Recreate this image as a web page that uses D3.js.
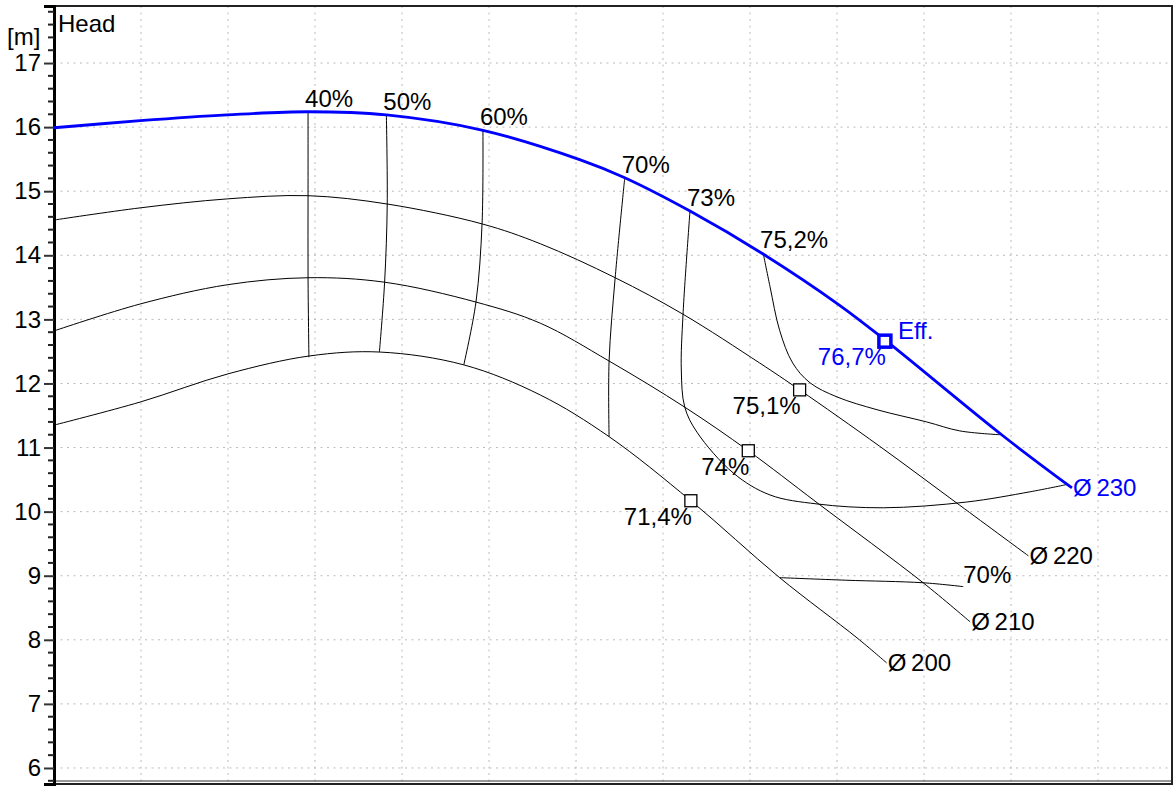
<!DOCTYPE html>
<html>
<head>
<meta charset="utf-8">
<script src="https://cdn.jsdelivr.net/npm/d3@7"></script>
<style>
  body { margin: 0; background: #fff; }
  text { font-family: "Liberation Sans", Arial, sans-serif; font-size: 24px; }
  .grid line { stroke: #bbb; stroke-width: 1; stroke-dasharray: 2,4.5; }
  .curve { fill: none; }
</style>
</head>
<body>
<svg width="1175" height="787"></svg>
<script>
// flow units are arbitrary (no x labels in the source), head in m
const h230 = [[0,15.99],[9.9,16.10],[19.9,16.19],[29.2,16.24],[38.2,16.19],[49.3,15.95],[60.5,15.49],[65.6,15.21],[73.1,14.69],[81.5,14.02],[90.3,13.22],[95.5,12.68],[109.1,11.18],[117.0,10.37]];
const h220 = [[0,14.55],[9.9,14.74],[19.9,14.88],[29.2,14.93],[38.3,14.80],[49.2,14.49],[55.9,14.18],[64.5,13.65],[72.3,13.08],[81.1,12.32],[85.7,11.90],[94.9,11.02],[104.1,10.10],[112.0,9.31]];
const h210 = [[0,12.82],[9.9,13.24],[19.9,13.54],[29.2,13.65],[38.0,13.58],[48.5,13.27],[55.9,12.94],[63.8,12.35],[72.5,11.63],[79.8,10.95],[87.7,10.14],[99.9,8.89],[105.3,8.28]];
const h200 = [[0,11.35],[9.9,11.71],[20.0,12.15],[29.4,12.43],[37.5,12.49],[47.1,12.29],[55.9,11.82],[63.8,11.17],[73.2,10.17],[83.4,8.97],[92.3,8.03],[95.7,7.64]];

const diameters = [
  { name: "Ø\u2009230", pts: h230, blue: true },
  { name: "Ø\u2009220", pts: h220 },
  { name: "Ø\u2009210", pts: h210 },
  { name: "Ø\u2009200", pts: h200 }
];

// iso-efficiency lines
const eff40 = [[29.2,16.24],[29.2,14.93],[29.2,13.65],[29.3,12.41]];
const eff50 = [[38.2,16.19],[38.3,14.80],[38.0,13.58],[37.4,12.49]];
const eff60 = [[49.3,15.95],[49.2,14.49],[48.5,13.27],[47.1,12.29]];
const eff70 = [[65.6,15.21],[64.5,13.65],[63.8,12.35],[63.8,11.17]];
const eff70b = [[83.4,8.97],[91.0,8.93],[99.9,8.89],[104.5,8.83]];
const eff73 = [[73.1,14.69],[72.3,13.08],[72.1,12.21],[72.5,11.63],[73.9,11.24],[78.1,10.60],[82.3,10.26],[87.7,10.12],[95.3,10.06],[104.9,10.15],[112.2,10.31],[116.3,10.42]];
const eff752 = [[81.5,14.04],[82.3,13.51],[83.4,12.83],[84.9,12.32],[86.9,12.01],[90.0,11.79],[94.6,11.59],[100.3,11.40],[104.1,11.26],[108.7,11.20]];

const effLines = [
  { label: "40%", pts: eff40 },
  { label: "50%", pts: eff50 },
  { label: "60%", pts: eff60 },
  { label: "70%", pts: eff70 },
  { label: "73%", pts: eff73 },
  { label: "75,2%", pts: eff752 }
];

// best efficiency points
const bep = [
  { label: "75,1%", q: 85.7, h: 11.90 },
  { label: "74%", q: 79.8, h: 10.95 },
  { label: "71,4%", q: 73.2, h: 10.17 }
];
const bep230 = { label: "76,7%", q: 95.5, h: 12.66 };

const svg = d3.select("svg"),
    margin = { top: 6, right: 3, bottom: 3, left: 54 },
    width = +svg.attr("width") - margin.left - margin.right,
    height = +svg.attr("height") - margin.top - margin.bottom;

const x = d3.scaleLinear().domain([0, 128.5]).range([0, width]),
    y = d3.scaleLinear().domain([5.75, 17.89]).range([height, 0]);

const blue = "#0000ff";

const g = svg.append("g")
    .attr("transform", "translate(" + margin.left + "," + margin.top + ")");

// grid
g.append("g").attr("class", "grid")
  .selectAll("line").data(d3.range(10, 128, 10)).enter().append("line")
    .attr("x1", d => x(d)).attr("x2", d => x(d))
    .attr("y1", 0).attr("y2", height);
g.append("g").attr("class", "grid")
  .selectAll("line").data(d3.range(6, 18)).enter().append("line")
    .attr("x1", 0).attr("x2", width)
    .attr("y1", d => y(d)).attr("y2", d => y(d));

// frame
g.append("rect")
    .attr("width", width).attr("height", height)
    .attr("fill", "none").attr("stroke", "#222").attr("stroke-width", 2);
g.append("line")
    .attr("x1", 0).attr("x2", width).attr("y1", height - 3).attr("y2", height - 3)
    .attr("stroke", "#333").attr("stroke-width", 1.2);

// y axis
var yAxis = d3.axisLeft(y).tickValues(d3.range(6, 18)).tickSize(10).tickPadding(3).tickFormat(d3.format("d"));
var gy = g.append("g").call(yAxis);
gy.select(".domain").attr("stroke-width", 3);
gy.selectAll(".tick line").attr("stroke-width", 2).attr("stroke", "#333");
gy.selectAll(".tick text").style("font-size", "24px").attr("fill", "#000");
var minorTicks = d3.range(5.8, 17.9, 0.2).filter(v => Math.abs(v - Math.round(v)) > 0.05);
g.append("g").selectAll("line").data(minorTicks).enter().append("line")
    .attr("x1", -6).attr("x2", 0)
    .attr("y1", d => y(d)).attr("y2", d => y(d))
    .attr("stroke", "#222").attr("stroke-width", 2);

svg.append("text").attr("x", 58).attr("y", 32).text("Head");
svg.append("text").attr("x", 7).attr("y", 45).text("[m]");

const lineQ = d3.line().x(d => x(d[0])).y(d => y(d[1])).curve(d3.curveCatmullRom.alpha(0.5));
const lineE = d3.line().x(d => x(d[0])).y(d => y(d[1])).curve(d3.curveCatmullRom.alpha(0.5));

// efficiency lines
g.selectAll(".eff").data(effLines).enter().append("path")
    .attr("class", "curve eff")
    .attr("d", d => lineE(d.pts))
    .attr("stroke", "#000").attr("stroke-width", 1);
g.append("path").attr("class", "curve").attr("d", lineE(eff70b))
    .attr("stroke", "#000").attr("stroke-width", 1);

g.selectAll(".efflabel").data(effLines).enter().append("text")
    .attr("x", d => x(d.pts[0][0]) - 3)
    .attr("y", d => y(d.pts[0][1]) - 5)
    .text(d => d.label);
g.append("text")
    .attr("x", x(eff70b[eff70b.length - 1][0]))
    .attr("y", y(eff70b[eff70b.length - 1][1]) - 4)
    .text("70%");

// impeller curves
g.selectAll(".qh").data(diameters.slice().reverse()).enter().append("path")
    .attr("class", "curve qh")
    .attr("d", d => lineQ(d.pts))
    .attr("stroke", d => d.blue ? blue : "#000")
    .attr("stroke-width", d => d.blue ? 2.8 : 1);

g.selectAll(".dlabel").data(diameters).enter().append("text")
    .attr("x", d => x(d.pts[d.pts.length - 1][0]) + 1)
    .attr("y", d => y(d.pts[d.pts.length - 1][1]) + 2)
    .attr("dominant-baseline", "middle")
    .attr("fill", d => d.blue ? blue : "#000")
    .text(d => d.name);

// BEP markers
g.selectAll(".bep").data(bep).enter().append("rect")
    .attr("x", d => x(d.q) - 6).attr("y", d => y(d.h) - 6)
    .attr("width", 12).attr("height", 12)
    .attr("fill", "#fff").attr("stroke", "#000").attr("stroke-width", 1.3);
g.selectAll(".beplabel").data(bep).enter().append("text")
    .attr("x", d => x(d.q) + 1).attr("y", d => y(d.h) + 24)
    .attr("text-anchor", "end")
    .text(d => d.label);

g.append("rect")
    .attr("x", x(bep230.q) - 6).attr("y", y(bep230.h) - 6)
    .attr("width", 12).attr("height", 12)
    .attr("fill", "#fff").attr("stroke", blue).attr("stroke-width", 3.5);
g.append("text")
    .attr("x", x(bep230.q) + 1).attr("y", y(bep230.h) + 24)
    .attr("text-anchor", "end").attr("fill", blue)
    .text(bep230.label);
g.append("text")
    .attr("x", x(bep230.q) + 13).attr("y", y(bep230.h) - 2)
    .attr("fill", blue)
    .text("Eff.");
</script>
</body>
</html>
